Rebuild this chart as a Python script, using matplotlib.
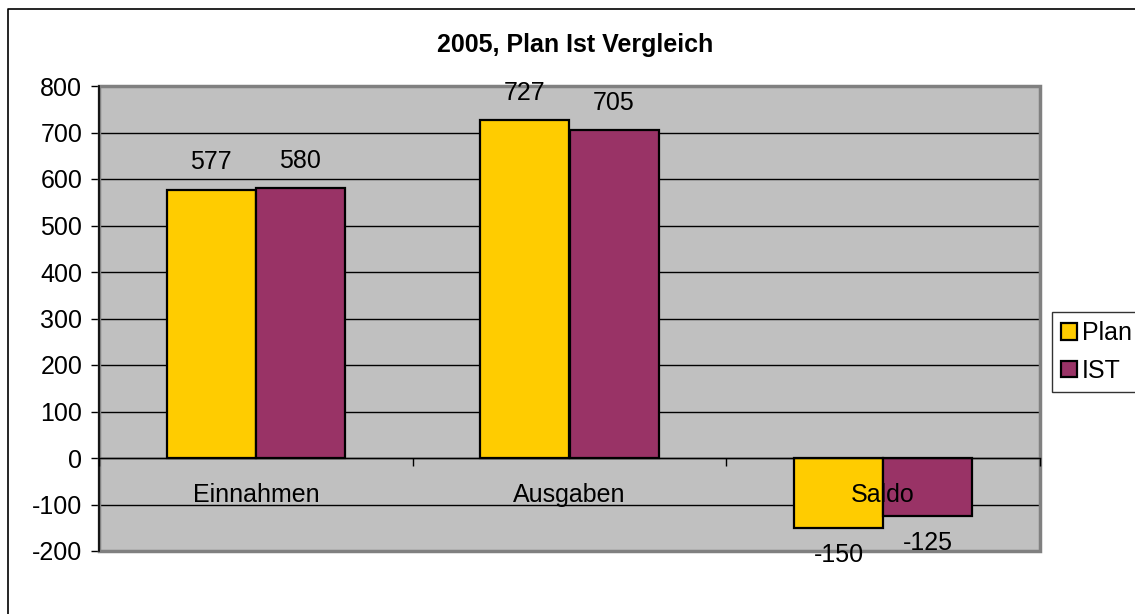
import matplotlib
matplotlib.use("Agg")
import matplotlib.pyplot as plt
from matplotlib.patches import Rectangle
from matplotlib.lines import Line2D
import numpy as np

plt.rcParams['font.family'] = ['Liberation Sans', 'DejaVu Sans']
plt.rcParams['axes.unicode_minus'] = False

categories = ["Einnahmen", "Ausgaben", "Saldo"]
series_names = ["Plan", "IST"]
plan_values = [577, 727, -150]
ist_values = [580, 705, -125]
colors = ["#FFCC00", "#993366"]
yticks = [-200, -100, 0, 100, 200, 300, 400, 500, 600, 700, 800]

FS = 18
W, H = 1135, 614
fig = plt.figure(figsize=(W / 100, H / 100), dpi=100)
fig.patch.set_facecolor("white")

ax = fig.add_axes([99 / W, 1 - 551 / H, (1040 - 99) / W, (551 - 86) / H])
ax.set_facecolor("#C0C0C0")

x = np.arange(len(categories))
bw = 0.284
b1 = ax.bar(x - bw / 2, plan_values, bw, color=colors[0], edgecolor="black", linewidth=1.6, label=series_names[0], zorder=3)
b2 = ax.bar(x + bw / 2, ist_values, bw, color=colors[1], edgecolor="black", linewidth=1.6, label=series_names[1], zorder=3)
for b in (b1, b2):
    ax.bar_label(b, padding=11, fontsize=FS, zorder=5)

ax.set_xlim(-0.5, len(categories) - 0.5)
ax.set_ylim(-200, 800)
ax.set_yticks(yticks)
ax.yaxis.grid(True, color="black", linewidth=1.0, zorder=0)
ax.set_axisbelow(True)
ax.tick_params(axis="y", labelsize=FS, length=6, width=1, direction="out", pad=6)

# x axis at zero
ax.spines["bottom"].set_position(("data", 0))
ax.spines["bottom"].set_linewidth(1.0)
ax.spines["bottom"].set_zorder(4)
ax.set_xticks(np.arange(len(categories) + 1) - 0.5)
ax.set_xticklabels([])
ax.set_xticks(x, minor=True)
ax.set_xticklabels(categories, minor=True, fontsize=FS)
ax.tick_params(axis="x", which="major", length=6, width=1, direction="out")
ax.tick_params(axis="x", which="minor", length=0, pad=18)
for lbl in ax.get_xticklabels(minor=True):
    lbl.set_zorder(6)
ax.xaxis.set_zorder(6)

ax.spines["top"].set_visible(False)
ax.spines["right"].set_visible(False)
ax.spines["left"].set_color("black")
ax.spines["left"].set_linewidth(1.2)
ax.spines["left"].set_zorder(5)
ax.add_patch(Rectangle((0, 0), 1, 1, transform=ax.transAxes, fill=False,
                       edgecolor="#808080", linewidth=2.5, clip_on=False, zorder=4))

fig.text(575 / W, 1 - 45 / H, "2005, Plan Ist Vergleich", ha="center", va="center",
         fontsize=FS, fontweight="bold")

leg = fig.legend(handles=[b1, b2], labels=series_names, loc="center left",
                 bbox_to_anchor=(1052 / W, 1 - 352 / H), fontsize=FS,
                 frameon=True, fancybox=False, edgecolor="black",
                 handlelength=0.65, handleheight=0.65, handletextpad=0.2,
                 labelspacing=0.55, borderpad=0.35, borderaxespad=0)
leg.get_frame().set_linewidth(1.0)

fig.add_artist(Line2D([8 / W, 8 / W, 1], [0, 1 - 9 / H, 1 - 9 / H],
                      transform=fig.transFigure, color="black", linewidth=1.2))

fig.savefig("out.png", dpi=100)
